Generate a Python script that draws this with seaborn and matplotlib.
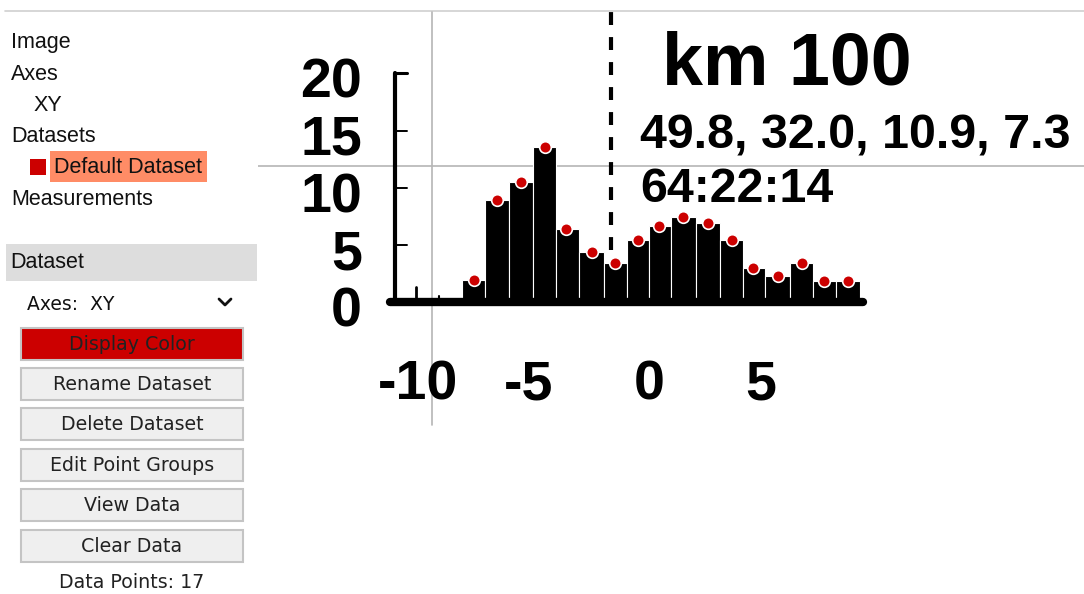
import matplotlib
matplotlib.use("Agg")
import matplotlib.pyplot as plt
from matplotlib.patches import Rectangle
import numpy as np
import pandas as pd
import seaborn as sns

# ---------------- data ----------------
bin_centers = [-7.91, -6.87, -5.79, -4.70, -3.76, -2.59, -1.55, -0.52, 0.43,
               1.51, 2.64, 3.72, 4.66, 5.79, 6.87, 7.86, 8.94]
counts = [1.97, 8.95, 10.5, 13.6, 6.4, 4.4, 3.45, 5.5, 6.7,
          7.5, 6.9, 5.5, 3.0, 2.3, 3.45, 1.9, 1.9]
y_ticks = [0, 5, 10, 15, 20]
x_ticks = [-10, -5, 0, 5]
title_text = "km 100"
stats_text = "49.8, 32.0, 10.9, 7.3"
ratio_text = "64:22:14"
tree_items = ["Image", "Axes", "XY", "Datasets", "Default Dataset", "Measurements"]
tree_levels = [0, 0, 1, 0, 2, 0]
buttons = ["Display Color", "Rename Dataset", "Delete Dataset",
           "Edit Point Groups", "View Data", "Clear Data"]
panel_title = "Dataset"
axes_choice = "Axes:  XY"
n_points = len(counts)

df = pd.DataFrame({"x": bin_centers, "count": counts})

# ---------------- style ----------------
sns.set_theme(style="white")
plt.rcParams["font.family"] = ["Liberation Sans", "DejaVu Sans"]

W, H = 1084, 594
fig = plt.figure(figsize=(W / 100, H / 100), dpi=100)

# ---------------- UI side panel (pixel space) ----------------
ui = fig.add_axes([0, 0, 1, 1])
ui.set_xlim(0, W)
ui.set_ylim(H, 0)
ui.axis("off")

ui.plot([5, W], [11, 11], color="#cfcfcf", lw=1.2)

tree_y = [42, 74, 105, 136, 167, 199]
indent = {0: 11, 1: 34, 2: 54}
for label, lvl, y in zip(tree_items, tree_levels, tree_y):
    if lvl == 2:
        ui.add_patch(Rectangle((50, 151), 157, 31, color="#ff8c66", lw=0))
        ui.add_patch(Rectangle((30, 159), 16, 16, color="#cc0000", lw=0))
    ui.text(indent[lvl], y + 0.5, label, fontsize=15.5, va="center", ha="left",
            color="#111111")

ui.add_patch(Rectangle((6, 244), 251, 37, color="#dddddd", lw=0))
ui.text(10, 262.5, panel_title, fontsize=15.5, va="center", ha="left",
        color="#111111")

ui.text(27, 304, axes_choice, fontsize=13.5, va="center", ha="left",
        color="#111111", family="DejaVu Sans")
ui.plot([219, 225, 231], [299, 305, 299], color="#111111", lw=2)

btn_tops = [328, 368, 408, 449, 489, 530]
for i, (label, top) in enumerate(zip(buttons, btn_tops)):
    face = "#cc0000" if i == 0 else "#efefef"
    ui.add_patch(Rectangle((21, top), 222, 32, facecolor=face,
                           edgecolor="#c4c4c4", lw=1.5))
    ui.text(132, top + 16.5, label, fontsize=13.7, va="center", ha="center",
            color="#222222", family="DejaVu Sans")

ui.text(132, 583, f"Data Points: {n_points}", fontsize=13.7, va="center",
        ha="center", color="#222222", family="DejaVu Sans")

# ---------------- chart (data space) ----------------
px0, py0 = 649.5, 302.5   # pixel of data origin
sx, sy = 22.2, 11.45      # pixels per data unit
left_px = 258
ax = fig.add_axes([left_px / W, 0, (W - left_px) / W, 1])
ax.set_facecolor("none")

centers = np.array(bin_centers)
mids = (centers[1:] + centers[:-1]) / 2
edges = np.concatenate([[centers[0] - (mids[0] - centers[0])], mids,
                        [centers[-1] + (centers[-1] - mids[-1])]]).tolist()

sns.histplot(data=df, x="x", weights="count", bins=edges, ax=ax, color="black",
             edgecolor="white", linewidth=0.8, alpha=1, zorder=2)

xmin, xmax = (left_px - px0) / sx, (W - px0) / sx
ymin, ymax = (py0 - H) / sy, py0 / sy

# digitizer crosshair
ax.plot([xmin, xmax], [11.92, 11.92], color="#b5b5b5", lw=1.2, zorder=1)
ax.plot([-9.8, -9.8], [-10.7, 25.4], color="#b5b5b5", lw=1.2, zorder=1)

# dashed mean line
ax.plot([-1.73, -1.73], [4.6, 25.4], color="black", lw=3,
        linestyle=(0, (3.1, 2.9)), zorder=3)

# axis frame of the scanned figure
ax.plot([-11.46, -11.46], [0, 20.0], color="black", lw=3, zorder=3)
for v in y_ticks[1:]:
    ax.plot([-11.46, -10.92], [v, v], color="black",
            lw=2.2 if v == y_ticks[-1] else 1.4, zorder=3)
ax.plot([-11.7, 9.6], [0, 0], color="black", lw=6, solid_capstyle="round",
        zorder=3)
ax.plot([-10.52, -10.52], [0, 1.35], color="black", lw=2, zorder=3)
ax.plot([-9.48, -9.48], [0, 0.6], color="black", lw=1.5, zorder=3)

sns.scatterplot(data=df, x="x", y="count", ax=ax, s=70, color="#cc0000",
                edgecolor="white", linewidth=1.2, zorder=5)

for v in y_ticks:
    ax.text(-12.95, v - 2.1, str(v), ha="right", va="baseline", fontsize=40,
            fontweight="bold", color="black")
for v in x_ticks:
    ax.text(v + (-0.45 if v < 0 else 0), -8.5, str(v), ha="center",
            va="baseline", fontsize=40, fontweight="bold", color="black")

ax.text(0.56, 19.0, title_text, ha="left", va="baseline", fontsize=53,
        fontweight="bold", color="black")
ax.text(-0.43, 13.49, stats_text, ha="left", va="baseline", fontsize=34.8,
        fontweight="bold", color="black")
ax.text(-0.43, 8.78, ratio_text, ha="left", va="baseline", fontsize=34.8,
        fontweight="bold", color="black")

ax.set_xlim(xmin, xmax)
ax.set_ylim(ymin, ymax)
ax.axis("off")

fig.savefig("out.png", dpi=100)
